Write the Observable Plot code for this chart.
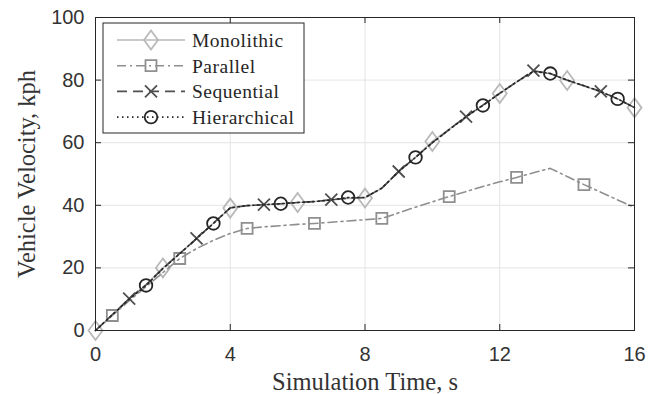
<!DOCTYPE html>
<html><head><meta charset="utf-8">
<script src="https://cdn.jsdelivr.net/npm/d3@7"></script>
<script src="https://cdn.jsdelivr.net/npm/@observablehq/plot@0.6"></script>
<style>html,body{margin:0;padding:0;background:#fff;} #chart{width:659px;height:394px;}</style>
</head><body><div id="chart"></div>
<script>
// ---- data ----
const time = [0,0.5,1,1.5,2,2.5,3,3.5,4,4.5,5,5.5,6,6.5,7,7.5,8,8.5,9,9.5,10,10.5,11,11.5,12,12.5,13,13.5,14,14.5,15,15.5,16];
const monolithic   = [0,5,10,14.6,20,24.6,29.4,34.3,39.1,39.9,40.2,40.5,40.9,41.2,41.7,42.2,42.3,45.4,50.8,55.4,60.4,64.3,68.3,72,75.7,79.4,82.8,82.1,79.9,78.1,76.3,74,71.2];
const parallel     = [0,4.8,9.5,14,18.5,23,26.2,28.8,31,32.6,33.1,33.5,33.9,34.2,34.6,35,35.4,35.8,37.6,39.4,41.1,42.8,44.4,46,47.5,48.9,50.4,51.8,49.2,46.6,44.2,41.7,39.3];
const sequential   = [0,5.1,10.2,14.6,19.8,24.6,29.4,34.3,39.2,39.9,40.2,40.5,40.9,41.2,41.8,42.3,42.5,45.5,50.8,55.3,60,64.2,68.3,72,75.8,79.4,83,82.1,80,78.2,76.4,74,71.2];
const hierarchical = [0,5,10,14.4,19.8,24.5,29.4,34.2,39.2,39.9,40.2,40.5,40.9,41.2,41.7,42.5,42.5,45.5,50.8,55.3,60,64.2,68.3,71.9,75.8,79.4,82.8,82.1,80,78.2,76.3,74,71.2];
const seriesNames  = ["Monolithic","Parallel","Sequential","Hierarchical"];
const xTicks = [0,4,8,12,16];
const yTicks = [0,20,40,60,80,100];
const xLabel = "Simulation Time, s";
const yLabel = "Vehicle Velocity, kph";

// ---- layout / style ----
const W = 659, H = 394, ML = 95, MR = 25, MT = 17, MB = 64;
const plotW = W - ML - MR, plotH = H - MT - MB;
const axisColor = "#262626";
const serif = "'Liberation Serif', 'Times New Roman', serif";

const symDiamond = {draw(c){ c.moveTo(0,-9.5); c.lineTo(7,0); c.lineTo(0,9.5); c.lineTo(-7,0); c.closePath(); }};
const symSquare  = {draw(c){ const h=5.5; c.moveTo(-h,-h); c.lineTo(h,-h); c.lineTo(h,h); c.lineTo(-h,h); c.closePath(); }};
const symCross   = {draw(c){ const h=6; c.moveTo(-h,-h); c.lineTo(h,h); c.moveTo(-h,h); c.lineTo(h,-h); }};
const symCircle  = {draw(c){ const r=6.3; c.moveTo(r,0); c.arc(0,0,r,0,2*Math.PI); }};

const valuesList = [monolithic, parallel, sequential, hierarchical];
const styles = [
  {stroke:"#b9b9b9", dash:null,        sym:symDiamond, offset:0},
  {stroke:"#8f8f8f", dash:"9,4,2,4",   sym:symSquare,  offset:1},
  {stroke:"#505050", dash:"10,6",      sym:symCross,   offset:2},
  {stroke:"#262626", dash:"1.5,3.5",   sym:symCircle,  offset:3}
];

const seriesMarks = seriesNames.flatMap((name, k) => {
  const data = time.map((t, i) => ({t, v: valuesList[k][i], i}));
  const st = styles[k];
  return [
    Plot.line(data, {x:"t", y:"v", stroke: st.stroke, strokeWidth: 1.6, strokeDasharray: st.dash}),
    Plot.dot(data.filter(d => d.i % 4 === st.offset), {x:"t", y:"v", symbol: st.sym, stroke: st.stroke, fill:"none", strokeWidth: 1.8, r: 5})
  ];
});

const chart = Plot.plot({
  width: W, height: H, marginLeft: ML, marginRight: MR, marginTop: MT, marginBottom: MB,
  style: {fontFamily: "'Liberation Sans', Arial, sans-serif", fontSize: "20px", color: axisColor, background: "#fff", overflow: "visible"},
  x: {domain: [0, 16]},
  y: {domain: [0, 100]},
  marks: [
    Plot.gridX(xTicks, {stroke: "#e4e4e4", strokeOpacity: 1, strokeWidth: 1}),
    Plot.gridY(yTicks, {stroke: "#e4e4e4", strokeOpacity: 1, strokeWidth: 1}),
    ...seriesMarks,
    Plot.tickX(xTicks, {x: d => d, insetTop: plotH - 6, stroke: axisColor}),
    Plot.tickX(xTicks, {x: d => d, insetBottom: plotH - 6, stroke: axisColor}),
    Plot.tickY(yTicks, {y: d => d, insetRight: plotW - 6, stroke: axisColor}),
    Plot.tickY(yTicks, {y: d => d, insetLeft: plotW - 6, stroke: axisColor}),
    Plot.frame({stroke: axisColor, strokeWidth: 1}),
    Plot.axisX(xTicks, {tickSize: 0, tickPadding: 16, label: null, fill: "#333"}),
    Plot.axisY(yTicks, {tickSize: 0, tickPadding: 11, label: null, fill: "#333"}),
    Plot.text([xLabel], {text: d => d, frameAnchor: "bottom", lineAnchor: "bottom", textAnchor: "middle", dy: 59, fontFamily: serif, fontSize: 24.5, fill: "#333", letterSpacing: "0.9px"}),
    Plot.text([yLabel], {text: d => d, frameAnchor: "left", textAnchor: "middle", lineAnchor: "bottom", rotate: -90, dx: -61, fontFamily: serif, fontSize: 24.5, fill: "#333", letterSpacing: "0.7px"})
  ]
});
document.getElementById("chart").appendChild(chart);

// ---- legend (inside plot, top-left) ----
const svg = d3.select(chart);
const lg = svg.append("g").attr("transform", "translate(103,23)");
const boxW = 201, boxH = 110, rowH = 25.7, row0 = 17;
lg.append("rect").attr("width", boxW).attr("height", boxH).attr("fill", "#fff").attr("stroke", axisColor).attr("stroke-width", 1);
seriesNames.forEach((name, k) => {
  const st = styles[k];
  const y = row0 + k * rowH;
  lg.append("line").attr("x1", 14).attr("x2", 82).attr("y1", y).attr("y2", y)
    .attr("stroke", st.stroke).attr("stroke-width", 1.6).attr("stroke-dasharray", st.dash);
  lg.append("path").attr("d", d3.symbol().type(st.sym)()).attr("transform", `translate(48,${y})`)
    .attr("fill", "none").attr("stroke", st.stroke).attr("stroke-width", 1.8);
  lg.append("text").attr("x", 89).attr("y", y).attr("dy", "0.35em").attr("text-anchor", "start").text(name)
    .attr("font-family", serif).attr("font-size", 19.5).attr("letter-spacing", "0.5px").attr("fill", "#262626");
});
</script>
</body></html>
